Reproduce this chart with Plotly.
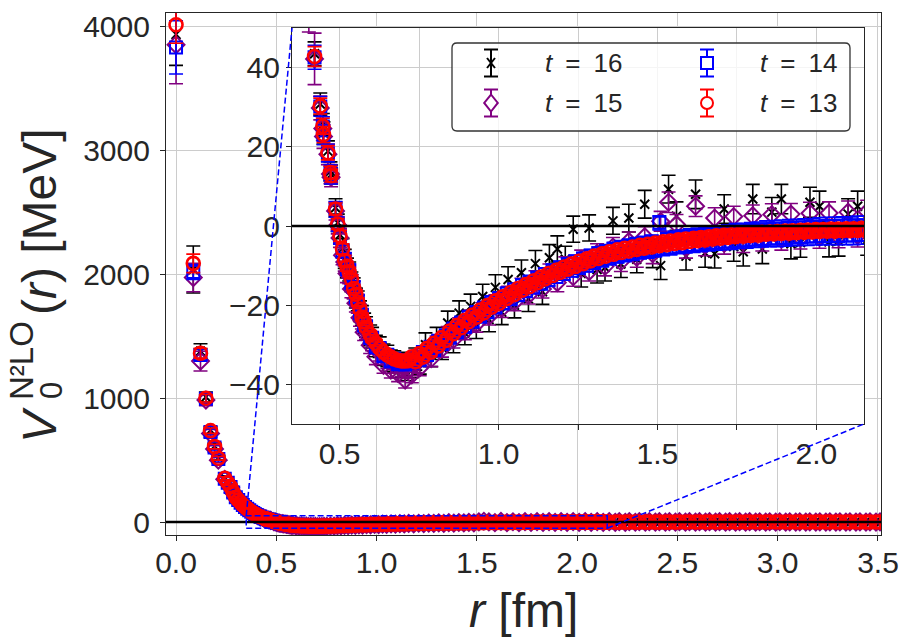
import plotly.graph_objects as go

# separation r in fm
# short range points (shared by every time slice)
r_near = [0.000, 0.086, 0.122, 0.149, 0.172, 0.192, 0.211, 0.243, 0.258, 0.272,
          0.285, 0.298, 0.310, 0.322, 0.333, 0.344, 0.355, 0.365, 0.375, 0.385,
          0.394, 0.403, 0.421, 0.439, 0.447, 0.449, 0.463, 0.471, 0.473, 0.487,
          0.494,
          0.501, 0.509, 0.516, 0.523, 0.530, 0.537, 0.544, 0.551, 0.557, 0.564,
          0.570, 0.577, 0.583, 0.596, 0.602, 0.614, 0.626, 0.638, 0.650, 0.661,
          0.672, 0.684, 0.695, 0.706, 0.716]
# mid range, the points read for t=16 and t=15
r_mid_coarse = [0.727, 0.738, 0.752, 0.770, 0.788, 0.805, 0.822, 0.840, 0.858, 0.876,
                0.894, 0.912, 0.930, 0.950, 0.970, 0.990, 1.010, 1.030, 1.050, 1.072,
                1.094, 1.116, 1.138, 1.160, 1.185, 1.210, 1.235, 1.260, 1.285, 1.310,
                1.335, 1.360, 1.385, 1.410, 1.435, 1.460, 1.485, 1.510, 1.535, 1.560,
                1.590, 1.620, 1.650, 1.680, 1.710, 1.740, 1.770, 1.800, 1.830, 1.860,
                1.890, 1.920, 1.950, 1.980, 2.010, 2.040, 2.070, 2.100, 2.130, 2.160]
# mid range, the denser points read for t=14 and t=13
r_mid_fine = [0.727, 0.738, 0.751, 0.762, 0.775, 0.786, 0.797, 0.810, 0.821, 0.834,
              0.846, 0.858, 0.869, 0.882, 0.894, 0.906, 0.918, 0.931, 0.942, 0.954,
              0.965, 0.978, 0.990, 1.002, 1.013, 1.026, 1.038, 1.050, 1.061, 1.074,
              1.086, 1.098, 1.109, 1.122, 1.134, 1.146, 1.157, 1.170, 1.182, 1.194,
              1.205, 1.218, 1.230, 1.242, 1.253, 1.266, 1.278, 1.290, 1.301, 1.314,
              1.326, 1.338, 1.349, 1.362, 1.374, 1.386, 1.397, 1.410, 1.422, 1.434,
              1.445, 1.458, 1.470, 1.482, 1.493, 1.506, 1.518, 1.530, 1.541, 1.554,
              1.566, 1.578, 1.589, 1.602, 1.614, 1.626, 1.637, 1.650, 1.662, 1.674,
              1.685, 1.698, 1.710, 1.722, 1.733, 1.746, 1.758, 1.770, 1.781, 1.794,
              1.806, 1.818, 1.829, 1.842, 1.854, 1.866, 1.877, 1.890, 1.902, 1.914,
              1.925, 1.938, 1.950, 1.962, 1.973, 1.986, 1.998, 2.010, 2.021, 2.034,
              2.046, 2.058, 2.069, 2.082, 2.094, 2.106, 2.117, 2.130, 2.142, 2.154]
# long range tail (shared)
r_far = [2.19, 2.21, 2.24, 2.26, 2.29, 2.31, 2.34, 2.36, 2.39, 2.41,
         2.44, 2.46, 2.49, 2.51, 2.54, 2.56, 2.59, 2.61, 2.64, 2.66,
         2.69, 2.71, 2.74, 2.76, 2.79, 2.81, 2.84, 2.86, 2.89, 2.91,
         2.94, 2.96, 2.99, 3.01, 3.04, 3.06, 3.09, 3.11, 3.14, 3.16,
         3.19, 3.21, 3.24, 3.26, 3.29, 3.31, 3.34, 3.36, 3.39, 3.41,
         3.44, 3.46, 3.49, 3.51, 3.54]

r_coarse = r_near + r_mid_coarse + r_far
r_fine = r_near + r_mid_fine + r_far

# t = 16
v_t16 = [3940, 2040, 1380, 1010, 742, 612, 520, 358, 322, 288,
         243, 203, 181, 159, 140, 124, 109, 97, 84, 74,
         65, 57, 43.5, 30.8, 25.6, 23.5, 18.9, 13.8, 13.0, 4.6,
         0.8,
         -2.2, -5.6, -8.3, -10.6, -11.5, -14.1, -15.6, -18.2, -18.9, -21.5,
         -22.6, -24.6, -25.5, -27.6, -28.2, -30.3, -30.6, -32.5, -32.8, -34.0,
         -34.2, -35.5, -34.6, -36.2, -34.9,
         -35.5, -33.6, -34.5, -30.0, -32.6, -28.6, -30.7, -24.5, -29.0, -22.0,
         -27.0, -20.3, -25.3, -17.8, -23.6, -15.5, -21.8, -13.5, -20.0, -11.8,
         -18.4, -9.5, -16.6, -8.0, -5.8, -8.4, -0.8, -12.0, -0.5, -11.0,
         -10.5, 1.3, -9.6, 2.0, -8.4, 5.5, -7.0, -10.0, 9.3, 2.5,
         -7.6, 8.0, -6.8, -7.0, 4.3, -5.2, -6.5, 6.8, -5.8, 3.5,
         6.8, -4.5, -4.2, 6.0, 5.0, -4.0, -3.8, 3.0, 5.0, -3.5,
         3.8, -4.8, 4.5, -3.5, 2.8, -4.2, 4.0, -2.9, 3.2, -3.8,
         4.6, -3.0, 2.5, -4.4, 3.6, -2.6, 4.2, -3.6, 2.9, -3.1,
         3.9, -2.4, 3.3, -3.9, 2.6, -2.8, 4.1, -3.3, 3.0, -2.5,
         3.5, -3.6, 2.7, -2.9, 3.8, -2.3, 3.1, -3.2, 2.4, -2.7,
         3.4, -2.2, 2.9, -3.0, 3.2, -2.5, 2.6, -2.8, 3.0, -2.1,
         2.8, -2.6, 2.5, -2.4, 2.7]
e_t16 = [250, 190, 60, 40, 30, 25, 20, 16, 14, 13,
         12, 10, 9, 8, 7, 7, 6, 6, 5, 5,
         4.5, 4, 3, 2.8, 2.8, 2.8, 2.6, 2.4, 2.4, 2.3,
         2.2,
         2.4, 2.4, 2.4, 2.5, 2.4, 2.5, 2.5, 2.5, 2.5, 2.6,
         2.5, 2.6, 2.6, 2.6, 2.6, 2.7, 2.6, 2.7, 2.7, 2.7,
         2.7, 2.8, 2.7, 2.8, 2.8,
         2.8, 2.8, 2.9, 3.0, 2.9, 3.0, 3.0, 3.0, 3.0, 3.1,
         3.0, 3.1, 3.1, 3.1, 3.1, 3.2, 3.1, 3.2, 3.2, 3.2,
         3.2, 3.3, 3.2, 3.3, 3.3, 3.3, 3.3, 3.4, 3.3, 3.4,
         3.4, 3.4, 3.4, 3.5, 3.4, 3.5, 3.5, 3.5, 3.5, 3.6,
         3.5, 3.6, 3.6, 3.6, 3.6, 3.7, 3.6, 3.7, 3.7, 3.7,
         3.7, 3.8, 3.7, 3.8, 3.8, 3.8, 3.8, 3.9, 3.8, 3.9,
         3.9, 3.9, 4.0, 3.9, 4.0, 4.0, 4.0, 4.0, 4.1, 4.0,
         4.1, 4.1, 4.1, 4.1, 4.2, 4.1, 4.2, 4.2, 4.2, 4.2,
         4.3, 4.2, 4.3, 4.3, 4.3, 4.3, 4.4, 4.3, 4.4, 4.4,
         4.4, 4.4, 4.5, 4.4, 4.5, 4.5, 4.5, 4.5, 4.6, 4.5,
         4.6, 4.6, 4.6, 4.6, 4.7, 4.6, 4.7, 4.7, 4.7, 4.7,
         4.8, 4.7, 4.8, 4.8, 4.8]

# t = 15
v_t15 = [3856, 1975, 1300, 985, 715, 590, 500, 345, 314, 280,
         236, 198, 176, 155, 136, 120, 106, 94, 81, 71,
         62, 56, 42.2, 29.8, 24.6, 22.6, 18.1, 13.1, 12.3, 3.8,
         0.2,
         -3.0, -7.4, -9.1, -12.0, -12.3, -15.9, -16.2, -19.5, -19.8, -23.2,
         -23.9, -26.8, -26.5, -30.1, -29.5, -33.0, -32.1, -35.2, -34.0, -36.4,
         -35.2, -37.3, -36.0, -38.9, -36.4,
         -37.6, -35.0, -35.8, -32.4, -33.5, -29.9, -31.0, -27.5, -28.7, -25.3,
         -26.6, -23.4, -24.7, -21.6, -22.8, -19.6, -20.9, -17.4, -19.2, -15.5,
         -17.5, -13.6, -15.9, -11.9, -14.3, -10.1, -12.8, -8.4, -11.5, -6.9,
         -10.2, -5.3, -9.0, -3.9, -7.9, -2.7, -7.0, 1.2, 6.0, 0.4,
         -5.5, 5.0, -4.9, 2.0, -4.4, 2.4, -4.0, 2.6, -3.6, 2.9,
         -3.3, 3.0, -3.0, 3.2, -2.8, 3.3, -2.6, 3.5, -2.4, 3.6,
         -2.3, 3.4, -2.2, 3.2, -2.0, 3.1, -1.9, 3.0, -1.8, 2.9,
         -1.7, 2.8, -1.6, 2.7, -1.5, 2.6, -1.5, 2.5, -1.4, 2.4,
         -1.3, 2.4, -1.3, 2.3, -1.2, 2.2, -1.2, 2.2, -1.1, 2.1,
         -1.1, 2.0, -1.0, 2.0, -1.0, 1.9, -0.9, 1.9, -0.9, 1.8,
         -0.8, 1.8, -0.8, 1.7, -0.8, 1.7, -0.7, 1.6, -0.7, 1.6,
         -0.7, 1.5, -0.6, 1.5, -0.6]
e_t15 = [315, 115, 80, 45, 32, 26, 21, 16, 14, 13,
         12, 10, 9, 8, 7, 7, 6, 6, 5, 5,
         4.5, 7, 6.5, 3, 3, 3, 2.6, 2.4, 2.4, 2.3,
         2.2,
         2.4, 2.4, 2.3, 2.3, 2.3, 2.2, 2.2, 2.2, 2.2, 2.1,
         2.1, 2.1, 2.1, 2.1, 2.0, 2.0, 2.0, 2.0, 2.0, 2.0,
         2.0, 2.0, 2.0, 2.0, 2.0,
         2.0, 2.0, 2.0, 2.1, 2.0, 2.1, 2.1, 2.1, 2.1, 2.1,
         2.1, 2.2, 2.1, 2.2, 2.2, 2.2, 2.2, 2.2, 2.2, 2.3,
         2.2, 2.3, 2.3, 2.3, 2.3, 2.3, 2.4, 2.3, 2.4, 2.4,
         2.4, 2.4, 2.5, 2.4, 2.5, 2.5, 2.5, 2.5, 2.6, 2.5,
         2.6, 2.6, 2.6, 2.6, 2.7, 2.6, 2.7, 2.7, 2.7, 2.7,
         2.8, 2.7, 2.8, 2.8, 2.8, 2.8, 2.9, 2.8, 2.9, 2.9,
         2.9, 2.9, 3.0, 2.9, 3.0, 3.0, 3.0, 3.0, 3.1, 3.0,
         3.1, 3.1, 3.1, 3.1, 3.2, 3.1, 3.2, 3.2, 3.2, 3.2,
         3.3, 3.2, 3.3, 3.3, 3.3, 3.3, 3.4, 3.3, 3.4, 3.4,
         3.4, 3.4, 3.5, 3.4, 3.5, 3.5, 3.5, 3.5, 3.6, 3.5,
         3.6, 3.6, 3.6, 3.6, 3.7, 3.6, 3.7, 3.7, 3.7, 3.7,
         3.8, 3.7, 3.8, 3.8, 3.8]

# t = 14
v_t14 = [3835, 2020, 1350, 995, 728, 603, 510, 350, 318, 283,
         238, 201, 178, 156, 138, 122, 107, 95, 82, 72,
         63, 56, 42.6, 30.2, 25.1, 23.0, 18.4, 13.4, 12.6, 4.2,
         0.4,
         -2.8, -6.3, -8.4, -10.9, -11.2, -14.3, -15.4, -18.0, -18.8, -21.9,
         -22.4, -25.1, -25.3, -28.3, -28.2, -30.6, -30.8, -32.9, -32.5, -34.2,
         -33.5, -34.9, -34.0, -35.0, -33.9,
         -34.6, -33.0, -33.9, -31.8, -32.6, -30.5, -31.3, -29.0, -29.8, -27.6,
         -28.2, -25.9, -26.8, -24.4, -25.5, -22.9, -24.2, -21.7, -22.9, -20.6,
         -21.8, -19.2, -20.6, -18.2, -19.6, -17.0, -18.5, -16.0, -17.5, -14.9,
         -16.5, -14.0, -15.6, -13.0, -14.6, -12.1, -13.7, -11.2, -12.9, -10.4,
         -12.1, -9.6, -11.3, -8.9, -10.6, -8.2, -10.0, -7.5, -9.3, -6.9,
         -8.7, -6.3, -8.2, -5.8, -7.7, -5.4, -7.3, -5.0, -7.0, -4.6,
         -6.6, -4.3, -6.3, -4.0, -6.0, 0.8, -5.7, -3.4, -5.5, -3.1,
         -5.2, -2.9, -5.0, -2.6, -4.8, -2.4, -4.6, -2.2, -4.4, -2.0,
         -4.2, -1.8, -4.0, -1.6, -3.9, -1.4, -3.7, -1.3, -3.6, -1.1,
         -3.4, -1.0, -3.3, -0.8, -3.2, -0.7, -3.1, -0.6, -3.0, -0.5,
         -2.9, -0.4, -2.8, -0.3, -2.7, -0.2, -2.6, -0.1, -2.6, 0.0,
         -2.5, 0.0, -2.5, 0.1, -2.4, 0.1, -2.4, 0.2, -2.3, 0.2,
         -2.2, -0.2, -2.0, 0.1, -1.9, -0.1, -1.8, 0.2, -1.7, 0.0,
         -1.6, 0.3, -1.5, 0.1, -1.5, 0.3, -1.4, 0.2, -1.3, 0.4,
         -1.3, 0.3, -1.2, 0.4, -1.2, 0.3, -1.1, 0.5, -1.1, 0.4,
         -1.0, 0.5, -1.0, 0.4, -0.9, 0.5, -0.9, 0.5, -0.9, 0.6,
         -0.8, 0.5, -0.8, 0.6, -0.8, 0.6, -0.7, 0.6, -0.7, 0.6,
         -0.7, 0.7, -0.6, 0.6, -0.6]
e_t14 = [215, 60, 45, 35, 25, 20, 16, 13, 12, 11,
         10, 9, 8, 7, 6, 6, 5, 5, 4, 4,
         3.5, 3.5, 3, 2.5, 2.5, 2.5, 2.2, 2, 2, 2,
         1.8,
         1.8, 1.7, 1.7, 1.6, 1.6, 1.5, 1.5, 1.5, 1.4, 1.4,
         1.4, 1.4, 1.3, 1.3, 1.3, 1.3, 1.3, 1.3, 1.2, 1.2,
         1.2, 1.2, 1.2, 1.2, 1.2,
         1.2, 1.2, 1.2, 1.2, 1.2, 1.2, 1.2, 1.2, 1.2, 1.2,
         1.2, 1.2, 1.2, 1.3, 1.2, 1.3, 1.3, 1.3, 1.3, 1.3,
         1.3, 1.3, 1.3, 1.3, 1.3, 1.4, 1.3, 1.4, 1.4, 1.4,
         1.4, 1.4, 1.4, 1.4, 1.4, 1.5, 1.4, 1.5, 1.5, 1.5,
         1.5, 1.5, 1.5, 1.5, 1.6, 1.5, 1.6, 1.6, 1.6, 1.6,
         1.6, 1.6, 1.6, 1.7, 1.6, 1.7, 1.7, 1.7, 1.7, 1.7,
         1.7, 1.7, 1.8, 1.7, 1.8, 1.8, 1.8, 1.8, 1.8, 1.8,
         1.8, 1.9, 1.8, 1.9, 1.9, 1.9, 1.9, 1.9, 1.9, 1.9,
         1.9, 1.9, 2.0, 1.9, 2.0, 2.0, 2.0, 2.0, 2.0, 2.0,
         2.0, 2.0, 2.0, 2.1, 2.0, 2.1, 2.1, 2.1, 2.1, 2.1,
         2.1, 2.1, 2.1, 2.1, 2.2, 2.1, 2.2, 2.2, 2.2, 2.2,
         2.2, 2.2, 2.2, 2.2, 2.3, 2.2, 2.3, 2.3, 2.3, 2.3,
         2.0, 2.0, 2.1, 2.0, 2.1, 2.1, 2.1, 2.1, 2.2, 2.1,
         2.2, 2.2, 2.2, 2.2, 2.3, 2.2, 2.3, 2.3, 2.3, 2.3,
         2.4, 2.3, 2.4, 2.4, 2.4, 2.4, 2.5, 2.4, 2.5, 2.5,
         2.5, 2.5, 2.6, 2.5, 2.6, 2.6, 2.6, 2.6, 2.7, 2.6,
         2.7, 2.7, 2.7, 2.7, 2.8, 2.7, 2.8, 2.8, 2.8, 2.8,
         2.9, 2.8, 2.9, 2.9, 2.9]

# t = 13
v_t13 = [4018, 2090, 1364, 1000, 738, 609, 515, 353, 318, 285,
         240, 200, 178, 157, 138, 122, 108, 95, 82, 72,
         63, 56, 42.8, 30.3, 25.2, 23.1, 18.5, 13.5, 12.7, 4.3,
         0.5,
         -2.5, -5.8, -8.7, -10.2, -11.6, -13.5, -15.8, -17.2, -19.2, -21.0,
         -23.0, -24.2, -25.6, -27.4, -28.4, -29.6, -30.9, -31.8, -32.6, -33.1,
         -33.6, -33.9, -34.1, -34.1, -34.0,
         -33.0, -34.3, -32.2, -33.1, -30.9, -31.9, -29.6, -30.3, -28.2, -28.9,
         -26.5, -27.2, -25.1, -25.7, -23.8, -24.2, -22.5, -23.0, -21.2, -21.9,
         -20.1, -20.5, -18.9, -19.5, -17.9, -18.3, -16.8, -17.3, -15.8, -16.2,
         -14.8, -15.3, -13.9, -14.3, -12.9, -13.4, -12.0, -12.5, -11.2, -11.7,
         -10.4, -10.9, -9.6, -10.2, -8.9, -9.5, -8.3, -8.8, -7.6, -8.2,
         -7.0, -7.6, -6.5, -7.1, -6.0, -6.7, -5.6, -6.3, -5.3, -5.9,
         -4.9, -5.6, -4.6, -5.3, -4.3, -5.0, -4.0, -4.7, -3.8, -4.4,
         -3.5, -4.2, -3.3, -3.9, -3.1, -3.7, -2.9, -3.5, -2.7, -3.3,
         -2.5, -3.1, -2.3, -2.9, -2.2, -2.7, -2.0, -2.6, -1.9, -2.4,
         -1.7, -2.3, -1.6, -2.1, -1.5, -2.0, -1.4, -1.9, -1.3, -1.8,
         -1.2, -1.7, -1.1, -1.6, -1.0, -1.5, -0.9, -1.4, -0.9, -1.3,
         -0.8, -1.3, -0.8, -1.2, -0.7, -1.2, -0.7, -1.1, -0.6, -1.1,
         -1.3, -0.9, -1.2, -0.8, -1.1, -0.8, -1.0, -0.7, -1.0, -0.6,
         -0.9, -0.6, -0.9, -0.5, -0.8, -0.5, -0.8, -0.5, -0.7, -0.4,
         -0.7, -0.4, -0.6, -0.4, -0.6, -0.3, -0.6, -0.3, -0.5, -0.3,
         -0.5, -0.3, -0.5, -0.2, -0.4, -0.2, -0.4, -0.2, -0.4, -0.2,
         -0.4, -0.1, -0.3, -0.1, -0.3, -0.1, -0.3, -0.1, -0.3, -0.1,
         -0.2, -0.1, -0.2, 0.0, -0.2]
e_t13 = [150, 75, 40, 30, 22, 18, 15, 12, 11, 10,
         9, 8, 7, 6, 6, 5, 5, 4, 4, 3.5,
         3, 3, 2.5, 2, 2, 2, 1.8, 1.6, 1.6, 1.5,
         1.4,
         1.4, 1.3, 1.3, 1.2, 1.2, 1.2, 1.1, 1.1, 1.1, 1.0,
         1.0, 1.0, 1.0, 1.0, 0.9, 0.9, 0.9, 0.9, 0.9, 0.9,
         0.9, 0.9, 0.9, 0.9, 0.9,
         0.9, 0.9, 0.9, 0.9, 0.8, 0.9, 0.8, 0.8, 0.8, 0.8,
         0.8, 0.8, 0.8, 0.8, 0.8, 0.8, 0.8, 0.8, 0.8, 0.8,
         0.8, 0.8, 0.8, 0.8, 0.8, 0.8, 0.8, 0.8, 0.8, 0.8,
         0.8, 0.9, 0.8, 0.9, 0.9, 0.9, 0.9, 0.9, 0.9, 0.9,
         0.9, 0.9, 0.9, 0.9, 0.9, 0.9, 1.0, 0.9, 1.0, 1.0,
         1.0, 1.0, 1.0, 1.0, 1.0, 1.0, 1.0, 1.0, 1.0, 1.0,
         1.0, 1.1, 1.0, 1.1, 1.1, 1.1, 1.1, 1.1, 1.1, 1.1,
         1.1, 1.1, 1.1, 1.1, 1.2, 1.1, 1.2, 1.2, 1.2, 1.2,
         1.2, 1.2, 1.2, 1.2, 1.2, 1.2, 1.2, 1.3, 1.2, 1.3,
         1.3, 1.3, 1.3, 1.3, 1.3, 1.3, 1.3, 1.3, 1.3, 1.3,
         1.3, 1.3, 1.4, 1.3, 1.4, 1.4, 1.4, 1.4, 1.4, 1.4,
         1.4, 1.4, 1.4, 1.4, 1.4, 1.4, 1.4, 1.4, 1.4, 1.4,
         1.4, 1.4, 1.4, 1.4, 1.4, 1.5, 1.4, 1.5, 1.5, 1.5,
         1.5, 1.5, 1.5, 1.6, 1.5, 1.6, 1.6, 1.6, 1.6, 1.6,
         1.6, 1.7, 1.6, 1.7, 1.7, 1.7, 1.7, 1.7, 1.7, 1.8,
         1.7, 1.8, 1.8, 1.8, 1.8, 1.8, 1.8, 1.9, 1.8, 1.9,
         1.9, 1.9, 1.9, 1.9, 1.9, 2.0, 1.9, 2.0, 2.0, 2.0,
         2.0, 2.0, 2.0, 2.1, 2.0]

for rr, arr in ((r_coarse, v_t16), (r_coarse, e_t16), (r_coarse, v_t15), (r_coarse, e_t15),
                (r_fine, v_t14), (r_fine, e_t14), (r_fine, v_t13), (r_fine, e_t13)):
    assert len(arr) == len(rr), (len(arr), len(rr))

# name, r, values, errors, colour, plotly symbol, marker size, line width
# (t=16 drawn first, t=13 on top)
series = [
    ("16", r_coarse, v_t16, e_t16, "#000000", "x-thin-open", 9, 2),
    ("15", r_coarse, v_t15, e_t15, "#800080", "diamond-open", 13, 2),
    ("14", r_fine, v_t14, e_t14, "#0000ff", "square-open", 12, 2),
    ("13", r_fine, v_t13, e_t13, "#ff0000", "circle-open", 13, 2.6),
]

FONT = "Liberation Sans, Arial, sans-serif"
INK = "#262626"
GRID = "#cccccc"

# page geometry (pixels)
PW, PH = 899, 642
L, R, T, B = 166, 881, 13, 535
W, H = R - L, B - T

def px_x(p):
    return (p - L) / W

def px_y(p):
    return (B - p) / H

# main axes ranges
xr_main = [-0.05, 3.515]
yr_main = [-105, 4113]
# zoomed window
xr_ins = [0.35, 2.15]
yr_ins = [-50, 50]
ins_box = (292, 864, 28, 424)  # left, right, top, bottom in px

fig = go.Figure()

for name, rr, v, e, col, sym, size, lw in series:
    for xa, ya in (("x", "y"), ("x2", "y2")):
        fig.add_trace(go.Scatter(
            x=rr, y=v, xaxis=xa, yaxis=ya, mode="markers", showlegend=False,
            marker=dict(symbol=sym, size=size, color=col, line=dict(color=col, width=lw)),
            error_y=dict(type="data", array=e, color=col, thickness=1.6, width=7),
        ))

axis_common = dict(
    showline=True, linecolor=INK, linewidth=1.25, mirror=True,
    ticks="outside", ticklen=5, tickwidth=1.25, tickcolor=INK,
    showgrid=True, gridcolor=GRID, gridwidth=1, zeroline=False,
    tickfont=dict(family=FONT, size=30, color=INK),
)

ix0, ix1 = px_x(ins_box[0]), px_x(ins_box[1])
iy0, iy1 = px_y(ins_box[3]), px_y(ins_box[2])

x_main_ticks = [0, 0.5, 1.0, 1.5, 2.0, 2.5, 3.0, 3.5]
y_main_ticks = [0, 1000, 2000, 3000, 4000]
x_ins_ticks = [0.5, 0.75, 1.0, 1.25, 1.5, 1.75, 2.0]
x_ins_text = ["0.5", "", "1.0", "", "1.5", "", "2.0"]
y_ins_ticks = [-40, -20, 0, 20, 40]
y_ins_text = ["\u221240", "\u221220", "0", "20", "40"]

fig.update_layout(
    width=PW, height=PH,
    margin=dict(l=L, r=PW - R, t=T, b=PH - B, pad=0, autoexpand=False),
    paper_bgcolor="white", plot_bgcolor="white",
    font=dict(family=FONT, color=INK),
    xaxis=dict(axis_common, domain=[0, 1], range=xr_main, anchor="y",
               tickvals=x_main_ticks, ticktext=["%.1f" % t for t in x_main_ticks],
               ticklabelstandoff=-4),
    yaxis=dict(axis_common, domain=[0, 1], range=yr_main, anchor="x",
               tickvals=y_main_ticks, ticktext=[str(t) for t in y_main_ticks],
               ticklabelstandoff=4),
    xaxis2=dict(axis_common, domain=[ix0, ix1], range=xr_ins, anchor="y2",
                tickvals=x_ins_ticks, ticktext=x_ins_text, ticklabelstandoff=-2),
    yaxis2=dict(axis_common, domain=[iy0, iy1], range=yr_ins, anchor="x2",
                tickvals=y_ins_ticks, ticktext=y_ins_text),
)

def main_to_paper(x, y):
    return ((x - xr_main[0]) / (xr_main[1] - xr_main[0]),
            (y - yr_main[0]) / (yr_main[1] - yr_main[0]))

shapes = []
# zero lines
shapes.append(dict(type="line", xref="paper", yref="y", x0=0, x1=1, y0=0, y1=0,
                   line=dict(color="black", width=2.5)))
shapes.append(dict(type="line", xref="x2 domain", yref="y2", x0=0, x1=1, y0=0, y1=0,
                   line=dict(color="black", width=2.5)))
# zoom window and connectors
dash_line = dict(color="#0000ff", width=1.5, dash="6px,3px")
shapes.append(dict(type="rect", xref="x", yref="y", x0=xr_ins[0], x1=xr_ins[1],
                   y0=yr_ins[0], y1=yr_ins[1], line=dash_line))
ax, ay = main_to_paper(xr_ins[0], yr_ins[1])
shapes.append(dict(type="line", xref="paper", yref="paper", x0=ax, y0=ay, x1=ix0, y1=iy1,
                   line=dash_line))
bx, by = main_to_paper(xr_ins[1], yr_ins[0])
shapes.append(dict(type="line", xref="paper", yref="paper", x0=bx, y0=by, x1=ix1, y1=iy0,
                   line=dash_line))

# legend box (rounded) in the inset
lg_l, lg_r, lg_t, lg_b, rad = 452, 850, 43, 131, 5
def P(x, y):
    return "%.5f,%.5f" % (px_x(x), px_y(y))
box_path = ("M " + P(lg_l + rad, lg_t) + " L " + P(lg_r - rad, lg_t) +
            " Q " + P(lg_r, lg_t) + " " + P(lg_r, lg_t + rad) +
            " L " + P(lg_r, lg_b - rad) + " Q " + P(lg_r, lg_b) + " " + P(lg_r - rad, lg_b) +
            " L " + P(lg_l + rad, lg_b) + " Q " + P(lg_l, lg_b) + " " + P(lg_l, lg_b - rad) +
            " L " + P(lg_l, lg_t + rad) + " Q " + P(lg_l, lg_t) + " " + P(lg_l + rad, lg_t) + " Z")
shapes.append(dict(type="path", xref="paper", yref="paper", path=box_path,
                   fillcolor="rgba(255,255,255,0.8)", line=dict(color="#333333", width=1.3)))

annotations = []
col_x = [491, 707]
row_y = [63, 103]
text_x = [543, 758]
slots = {"16": (0, 0), "15": (0, 1), "14": (1, 0), "13": (1, 1)}
for name, rr, v, e, col, sym, size, lw in series:
    c, rw = slots[name]
    cx, cy = col_x[c], row_y[rw]
    ln = dict(color=col, width=2)
    # error bar glyph
    shapes.append(dict(type="line", xref="paper", yref="paper", x0=px_x(cx), x1=px_x(cx),
                       y0=px_y(cy - 13.5), y1=px_y(cy + 13.5), line=ln))
    for yy in (cy - 13.5, cy + 13.5):
        shapes.append(dict(type="line", xref="paper", yref="paper", x0=px_x(cx - 7),
                           x1=px_x(cx + 7), y0=px_y(yy), y1=px_y(yy), line=ln))
    h = 6.0
    if sym.startswith("circle"):
        shapes.append(dict(type="circle", xref="paper", yref="paper", x0=px_x(cx - h),
                           x1=px_x(cx + h), y0=px_y(cy - h), y1=px_y(cy + h),
                           line=ln, fillcolor="white"))
    elif sym.startswith("square"):
        shapes.append(dict(type="rect", xref="paper", yref="paper", x0=px_x(cx - h),
                           x1=px_x(cx + h), y0=px_y(cy - h), y1=px_y(cy + h),
                           line=ln, fillcolor="white"))
    elif sym.startswith("diamond"):
        d = 8.5
        shapes.append(dict(type="path", xref="paper", yref="paper",
                           path="M " + P(cx, cy - d) + " L " + P(cx + d * 0.8, cy) + " L " +
                           P(cx, cy + d) + " L " + P(cx - d * 0.8, cy) + " Z",
                           line=ln, fillcolor="white"))
    else:
        for sgn in (1, -1):
            shapes.append(dict(type="line", xref="paper", yref="paper", x0=px_x(cx - 4),
                               x1=px_x(cx + 4), y0=px_y(cy - 5 * sgn), y1=px_y(cy + 5 * sgn),
                               line=ln))
    annotations.append(dict(xref="paper", yref="paper", x=px_x(text_x[c]), y=px_y(cy),
                            xanchor="left", yanchor="middle", showarrow=False,
                            text="<i>t</i>\u2002=\u2002" + name,
                            font=dict(family=FONT, size=26, color=INK)))

# axis labels
annotations.append(dict(xref="paper", yref="paper", x=px_x(523), y=px_y(610),
                        xanchor="center", yanchor="middle", showarrow=False,
                        text="<i>r</i> [fm]", font=dict(family=FONT, size=48, color=INK)))
ylab_parts = [
    ("<i>V</i>", 48, 39, 425),
    ("0", 31, 51, 391),
    ("N\u00b2LO", 33, 21, 361),
    ("(<i>r</i>) [MeV]", 48, 39, 222),
]
for txt, fs, xx, yy in ylab_parts:
    annotations.append(dict(xref="paper", yref="paper", x=px_x(xx), y=px_y(yy),
                            xanchor="center", yanchor="middle", showarrow=False,
                            textangle=-90, text=txt,
                            font=dict(family=FONT, size=fs, color=INK)))

fig.update_layout(shapes=shapes, annotations=annotations)

# the page body has a default 8px margin; drop it so the figure sits at the window corner
fig.write_html("out.html", config={"displayModeBar": False},
               post_script="document.body.style.margin='0';")
